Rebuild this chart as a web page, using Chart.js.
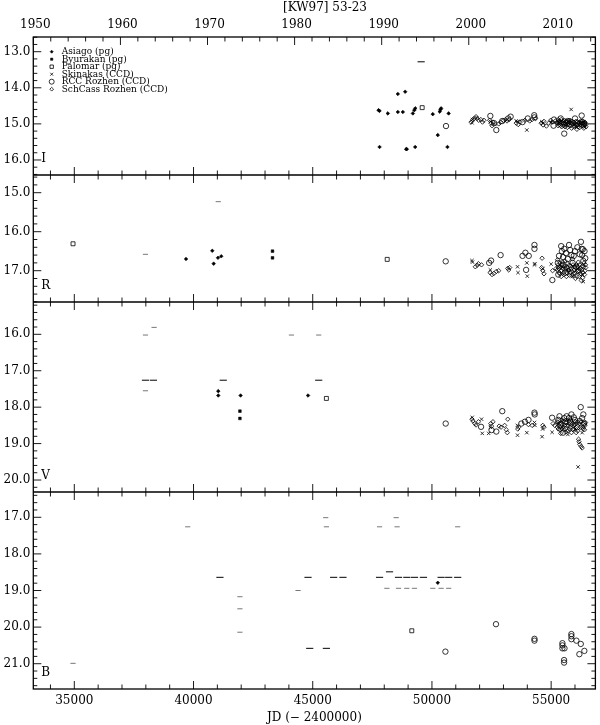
<!DOCTYPE html>
<html><head><meta charset="utf-8">
<script src="https://cdn.jsdelivr.net/npm/chart.js@4/dist/chart.umd.min.js"></script>
<style>html,body{margin:0;padding:0;background:#fff}canvas{display:block}</style>
</head><body>
<canvas id="c" width="600" height="725"></canvas>
<script>
// ---------- text / ticks ----------
const TITLE = '[KW97] 53-23';
const X_TITLE = 'JD (\u2212 2400000)';
const JD_MIN = 33280, JD_MAX = 56856;
const JD_TICKS = [35000, 40000, 45000, 50000, 55000];
const YEAR_TICKS = [1950, 1960, 1970, 1980, 1990, 2000, 2010];
const BANDS = ['I', 'R', 'V', 'B'];
const I_TICKS = [13, 14, 15, 16];
const R_TICKS = [15, 16, 17];
const V_TICKS = [16, 17, 18, 19, 20];
const B_TICKS = [17, 18, 19, 20, 21];
const I_RANGE = [12.593, 16.416];
const R_RANGE = [14.546, 17.803];
const V_RANGE = [15.113, 20.329];
const B_RANGE = [16.309, 21.691];
const SURVEYS = ['Asiago (pg)', 'Byurakan (pg)', 'Palomar (pg)', 'Skinakas (CCD)', 'RCC Rozhen (CCD)', 'SchCass Rozhen (CCD)'];

// ---------- I band ----------
const I_asiago = [[47761,14.62],[47800,14.64],[47803,15.64],[48150,14.71],[48570,14.67],[48570,14.17],[48780,14.67],[48878,14.11],[48920,15.70],[48945,15.70],[49200,14.71],[49260,14.62],[49300,14.57],[49297,15.64],[50035,14.73],[50245,15.31],[50327,14.66],[50360,14.60],[50385,14.57],[50650,15.64],[50700,14.71]];
const I_palomar = [[49590,14.55]];
const I_skinakas = [[51680,14.97],[51700,14.88],[52450,14.93],[52620,15.0],[53530,14.92],[53590,14.93],[53980,15.17],[54610,14.94],[54650,14.98],[55000,14.95],[55300,14.97],[55420,14.92],[55600,15.05],[55750,14.92],[55840,14.60],[55980,15.02],[56050,15.10],[56200,14.97],[56350,14.95],[56420,15.08]];
const I_rcc = [[50590,15.06],[52450,14.78],[52610,14.98],[52700,15.17],[52950,14.92],[53200,14.85],[53300,14.80],[53800,14.95],[54020,14.85],[54290,14.76],[54300,14.82],[55100,15.05],[55120,14.88],[55400,14.85],[55550,15.27],[55700,14.92],[56000,14.85],[56280,14.77],[56300,14.95],[56380,15.0]];
const I_schcass = [[51640,14.95],[51720,14.88],[51790,14.84],[51850,14.80],[51900,14.85],[51960,14.90],[52050,14.88],[52120,14.95],[52180,14.90],[52420,14.90],[52480,14.98],[52520,15.05],[52560,14.95],[52800,15.0],[52880,14.96],[53000,14.90],[53080,14.88],[53150,14.92],[53250,14.87],[53540,14.98],[53620,15.02],[53700,14.95],[53900,14.90],[54100,14.92],[54200,14.88],[54350,14.85],[54580,14.98],[54660,15.03],[54700,14.93],[54800,15.06],[54900,14.98],[54980,14.90],[55060,14.95],[55180,14.92],[55260,14.96],[55300,14.88],[55340,15.02],[55380,14.93],[55440,15.08],[55480,14.98],[55520,15.05],[55560,14.90],[55600,15.0],[55640,14.94],[55680,15.10],[55720,14.98],[55760,15.04],[55800,14.90],[55860,15.12],[55900,15.0],[55940,14.95],[55990,15.06],[56040,14.93],[56080,15.15],[56120,15.02],[56160,14.97],[56200,15.10],[56240,14.92],[56290,15.05],[56330,14.98],[56370,15.12],[56410,14.95],[56450,15.02],
  [55270,14.98],[55290,15.05],[55320,14.92],[55360,14.97],[55400,15.04],[55420,14.88],[55460,14.95],[55500,14.92],[55540,14.99],[55580,15.08],[55610,14.93],[55660,14.97],[55700,15.02],[55740,14.91],[55780,14.96],[55820,15.05],[55840,14.98],[55880,14.93],[55920,15.07],[55960,14.96],[56010,15.0],[56060,15.04],[56100,14.94],[56140,15.08],[56180,14.96],[56220,15.03],[56260,14.98],[56310,14.92],[56350,15.06],[56390,15.0],[56430,14.97],[56460,15.08]];
const I_dash = [[49548,13.28]];
const I_dashGray = [];

// ---------- R band ----------
const R_asiago = [[39686,16.70],[40787,16.49],[40845,16.82],[41025,16.67],[41163,16.63]];
const R_byurakan = [[43313,16.50],[43313,16.67]];
const R_palomar = [[34946,16.31],[48124,16.71]];
const R_skinakas = [[51680,16.74],[51700,16.78],[52450,16.98],[53590,16.90],[53610,17.05],[53980,16.80],[54000,17.14],[54300,16.85],[54320,16.82],[54650,16.95],[55000,16.83],[55450,16.90],[55700,17.0],[55900,17.15],[56100,16.95],[56300,17.10],[56350,17.28]];
const R_rcc = [[50577,16.76],[52400,16.80],[52480,16.74],[52880,16.60],[53800,16.62],[53920,16.54],[54060,16.62],[53950,16.98],[54300,16.34],[54300,16.44],[55050,17.24],[55280,16.80],[55420,16.37],[55450,16.50],[55500,16.65],[55550,16.44],[55600,17.05],[55750,16.34],[55800,16.47],[55850,16.60],[55900,16.80],[56000,16.50],[56100,16.40],[56150,17.0],[56250,16.26],[56280,16.44],[56300,16.60],[56350,16.75],[56400,16.50],[55300,17.10],
  [55330,16.62],[55480,16.85],[55620,16.55],[55700,16.70],[55950,16.62],[56050,16.90],[56200,16.58],[56330,16.45],[56430,16.68]];
const R_schcass = [[51820,16.90],[51900,16.86],[51950,16.82],[52080,16.85],[52440,17.05],[52520,17.10],[52600,17.07],[52700,17.02],[52800,17.0],[53180,16.94],[53220,16.98],[53260,16.92],[54620,16.68],[54600,16.92],[54650,17.0],[54700,17.08],[55060,17.0],[55200,16.95],[55270,16.72],[55300,16.90],[55340,17.05],[55380,16.80],[55420,17.15],[55460,16.85],[55500,16.95],[55540,17.10],[55580,16.75],[55620,16.92],[55660,17.05],[55700,16.82],[55740,16.98],[55780,17.12],[55820,16.88],[55860,17.0],[55900,16.70],[55940,17.08],[55980,16.90],[56020,17.20],[56060,16.85],[56100,17.02],[56140,16.78],[56180,17.15],[56220,16.95],[56260,17.25],[56300,16.88],[56340,17.05],[56380,16.80],[56420,17.0],[56450,16.92],
  [55260,16.98],[55290,16.85],[55320,16.95],[55360,17.08],[55400,16.90],[55440,17.0],[55480,16.78],[55520,17.05],[55560,16.88],[55600,16.95],[55640,17.15],[55680,16.92],[55720,17.0],[55760,16.86],[55800,17.05],[55840,16.95],[55880,17.12],[55920,16.85],[55960,16.98],[56000,17.06],[56040,16.92],[56080,17.15],[56120,16.90],[56160,17.0],[56200,16.85],[56240,17.08],[56280,16.98],[56320,17.18],[56360,16.90],[56400,17.10],[56440,16.85]];
const R_dash = [];
const R_dashGray = [[37985,16.58],[41038,15.23]];

// ---------- V band ----------
const V_asiago = [[41038,17.56],[41038,17.68],[41974,17.68],[44803,17.68]];
const V_byurakan = [[41946,18.11],[41946,18.31]];
const V_palomar = [[45573,17.76]];
const V_skinakas = [[51690,18.28],[52080,18.33],[52110,18.72],[52380,18.72],[52450,18.55],[53580,18.50],[53590,18.77],[53980,18.70],[54300,18.42],[54320,18.50],[54620,18.81],[54640,18.60],[55040,18.69],[55450,18.55],[55700,18.75],[56000,18.60],[56130,19.64],[56300,18.70]];
const V_rcc = [[50577,18.45],[52060,18.54],[52500,18.63],[52700,18.67],[52950,18.11],[53750,18.45],[53900,18.40],[54050,18.35],[54300,18.15],[54310,18.20],[55040,18.29],[55300,18.35],[55400,18.50],[55550,18.30],[55650,18.25],[55800,18.40],[55850,18.20],[56000,18.35],[56100,18.55],[56240,18.0],[56300,18.30],[56380,18.45],[55500,18.70],
  [55350,18.25],[55600,18.40],[55750,18.30],[55950,18.28],[56200,18.38],[56350,18.20]];
const V_schcass = [[51680,18.33],[51720,18.38],[51800,18.45],[51850,18.49],[51950,18.40],[52470,18.45],[52500,18.52],[52560,18.40],[52820,18.52],[52900,18.55],[53050,18.50],[53120,18.62],[53160,18.70],[53180,18.33],[53600,18.60],[53640,18.55],[54050,18.48],[54200,18.50],[54650,18.50],[54700,18.55],[55080,18.45],[55150,18.50],[55250,18.40],[55300,18.60],[55350,18.45],[55400,18.72],[55450,18.35],[55500,18.55],[55550,18.62],[55600,18.42],[55650,18.50],[55700,18.65],[55750,18.38],[55800,18.55],[55850,18.70],[55900,18.45],[55950,18.60],[56000,18.48],[56050,18.70],[56100,18.40],[56150,18.88],[56170,18.95],[56200,19.02],[56230,18.55],[56260,19.08],[56300,19.12],[56340,18.60],[56380,18.45],[56420,18.50],
  [55260,18.55],[55290,18.42],[55320,18.50],[55370,18.62],[55410,18.45],[55460,18.60],[55510,18.38],[55560,18.50],[55610,18.68],[55660,18.42],[55710,18.52],[55760,18.60],[55810,18.35],[55860,18.48],[55910,18.62],[55960,18.50],[56010,18.40],[56060,18.55],[56110,18.65],[56190,18.45],[56250,18.40],[56330,18.55],[56400,18.62],[56440,18.42]];
const V_dash = [[37985,17.26],[38318,17.26],[41247,17.26],[45251,17.26]];
const V_dashGray = [[37985,16.02],[38347,15.81],[37985,17.55],[44108,16.02],[45251,16.02]];

// ---------- B band ----------
const B_asiago = [[50245,18.79]];
const B_palomar = [[49155,20.10]];
const B_rcc = [[50565,20.67],[52686,19.92],[54301,20.32],[54301,20.37],[55473,20.44],[55473,20.50],[55473,20.58],[55543,20.90],[55543,20.97],[55560,20.58],[55849,20.19],[55849,20.25],[55849,20.33],[56059,20.37],[56243,20.46],[56184,20.74],[56393,20.65]];
const B_dash = [[41108,18.64],[44803,18.64],[45878,18.64],[46268,18.64],[47803,18.64],[48598,18.64],[48946,18.64],[49268,18.64],[49644,18.64],[50385,18.64],[50703,18.64],[51080,18.64],[48222,18.49],[44874,20.58],[45573,20.58]];
const B_dashGray = [[34946,20.99],[39757,17.26],[41946,19.17],[41946,19.50],[41946,20.14],[44385,19.0],[45544,17.01],[45573,17.26],[47803,17.26],[48500,17.01],[48540,17.26],[51080,17.26],[48110,18.94],[48598,18.94],[48946,18.94],[49268,18.94],[50035,18.94],[50385,18.94],[50703,18.94]];

// ---------- styles ----------
const CLEAR = 'rgba(0,0,0,0)';
const MARK = {
  asiago:   {pointStyle:'rectRot', pointRadius:1.8, backgroundColor:'#000', borderColor:'#000', borderWidth:0.6},
  byurakan: {pointStyle:'rect', pointRadius:1.9, backgroundColor:'#000', borderColor:'#000', borderWidth:0.5},
  palomar:  {pointStyle:'rect', pointRadius:2.8, backgroundColor:CLEAR, borderColor:'#000', borderWidth:0.8},
  skinakas: {pointStyle:'crossRot', pointRadius:2.4, backgroundColor:CLEAR, borderColor:'#000', borderWidth:0.8},
  rcc:      {pointStyle:'circle', pointRadius:2.7, backgroundColor:CLEAR, borderColor:'#000', borderWidth:0.8},
  schcass:  {pointStyle:'rectRot', pointRadius:2.2, backgroundColor:CLEAR, borderColor:'#000', borderWidth:0.8},
  dash:     {pointStyle:'line', pointRadius:3.6, backgroundColor:CLEAR, borderColor:'#000', borderWidth:1},
  dashGray: {pointStyle:'line', pointRadius:2.6, backgroundColor:CLEAR, borderColor:'#777', borderWidth:1}
};
const LEGEND_KEYS = ['asiago','byurakan','palomar','skinakas','rcc','schcass'];

const PANEL_DATA = {
  yI: {asiago:I_asiago, palomar:I_palomar, skinakas:I_skinakas, rcc:I_rcc, schcass:I_schcass, dash:I_dash, dashGray:I_dashGray},
  yR: {asiago:R_asiago, byurakan:R_byurakan, palomar:R_palomar, skinakas:R_skinakas, rcc:R_rcc, schcass:R_schcass, dash:R_dash, dashGray:R_dashGray},
  yV: {asiago:V_asiago, byurakan:V_byurakan, palomar:V_palomar, skinakas:V_skinakas, rcc:V_rcc, schcass:V_schcass, dash:V_dash, dashGray:V_dashGray},
  yB: {asiago:B_asiago, palomar:B_palomar, rcc:B_rcc, dash:B_dash, dashGray:B_dashGray}
};

const datasets = [];
Object.keys(PANEL_DATA).forEach(axis => {
  const sets = PANEL_DATA[axis];
  Object.keys(sets).forEach(kind => {
    const m = MARK[kind];
    datasets.push(Object.assign({
      label: axis + ' ' + kind,
      yAxisID: axis, xAxisID: 'x',
      data: sets[kind].map(p => ({x: p[0], y: p[1]})),
      showLine: false,
      pointHoverRadius: m.pointRadius
    }, m));
  });
});

const yearOf = jd => 2000 + (jd - 51544.5) / 365.25;
const FONT = '"DejaVu Serif", "Liberation Serif", serif';
Chart.defaults.font.family = FONT;
Chart.defaults.font.size = 12;
Chart.defaults.color = '#000';

function yScale(range, ticks, weight, stackWeight) {
  return {
    type: 'linear', position: 'left', stack: 'lc', stackWeight: stackWeight, weight: weight,
    reverse: true, min: range[0], max: range[1],
    grid: {display:false, drawTicks:false}, border: {display:false},
    ticks: {padding: 3, autoSkip:false, callback: v => Number(v).toFixed(1)},
    afterBuildTicks: s => { s.ticks = ticks.map(v => ({value: v})); },
    afterFit: s => { s.width = 33.3; }
  };
}

const framePlugin = {
  id: 'frame',
  afterDatasetsDraw(chart) {
    const ctx = chart.ctx, ca = chart.chartArea;
    const xs = chart.scales.x, xt = chart.scales.xTop;
    const panels = ['yI','yR','yV','yB'].map(id => chart.scales[id]);
    ctx.save();
    ctx.strokeStyle = '#000';
    ctx.lineWidth = 1.3;
    ctx.strokeRect(ca.left, ca.top, ca.right - ca.left, ca.bottom - ca.top);
    panels.forEach((s, i) => {
      if (i < panels.length - 1) {
        ctx.beginPath(); ctx.moveTo(ca.left, s.bottom); ctx.lineTo(ca.right, s.bottom); ctx.stroke();
      }
    });
    ctx.lineWidth = 0.9;
    ctx.beginPath();
    panels.forEach((s, i) => {
      for (let jd = 34000; jd <= 56000; jd += 1000) {
        const px = xs.getPixelForValue(jd);
        const L = jd % 5000 === 0 ? 8 : 4.5;
        if (i > 0) { ctx.moveTo(px, s.top); ctx.lineTo(px, s.top + L); }
        ctx.moveTo(px, s.bottom); ctx.lineTo(px, s.bottom - L);
      }
      const k0 = Math.ceil(s.min * 5 - 1e-6), k1 = Math.floor(s.max * 5 + 1e-6);
      for (let k = k0; k <= k1; k++) {
        const py = s.getPixelForValue(k / 5);
        const L = k % 5 === 0 ? 8 : 4;
        ctx.moveTo(ca.left, py); ctx.lineTo(ca.left + L, py);
        ctx.moveTo(ca.right, py); ctx.lineTo(ca.right - L, py);
      }
    });
    for (let y = 1950; y <= 2014; y += 2) {
      const px = xt.getPixelForValue(y);
      const L = y % 10 === 0 ? 8 : 4.5;
      ctx.moveTo(px, ca.top); ctx.lineTo(px, ca.top + L);
    }
    ctx.stroke();

    ctx.fillStyle = '#000';
    ctx.font = '12px ' + FONT;
    ctx.textAlign = 'left'; ctx.textBaseline = 'middle';
    panels.forEach((s, i) => ctx.fillText(BANDS[i], ca.left + 8, s.bottom - 16));

    ctx.font = '9px ' + FONT;
    LEGEND_KEYS.forEach((k, i) => {
      const m = MARK[k];
      const ly = ca.top + 14.7 + i * 7.5;
      const lx = ca.left + 18.4;
      ctx.save();
      ctx.strokeStyle = m.borderColor; ctx.fillStyle = m.backgroundColor; ctx.lineWidth = m.borderWidth;
      const r = k === 'rcc' ? 2.5 : (k === 'palomar' ? 2.4 : m.pointRadius * 0.85);
      Chart.helpers.drawPoint(ctx, {pointStyle: m.pointStyle, radius: r, rotation: 0, borderWidth: m.borderWidth}, lx, ly);
      ctx.restore();
      ctx.fillStyle = '#000';
      ctx.fillText(SURVEYS[i], ca.left + 28.4, ly);
    });

    ctx.font = '12px ' + FONT;
    ctx.textAlign = 'center';
    ctx.fillText(TITLE, 325, 8);
    ctx.restore();
  }
};

new Chart(document.getElementById('c'), {
  type: 'scatter',
  data: {datasets},
  plugins: [framePlugin],
  options: {
    responsive: false, animation: false, devicePixelRatio: 1,
    layout: {padding: {left: 0, right: 4.3, top: 0, bottom: 0}},
    plugins: {legend: {display: false}, tooltip: {enabled: false}, title: {display: false}},
    scales: {
      x: {
        type: 'linear', position: 'bottom', min: JD_MIN, max: JD_MAX,
        grid: {display:false, drawTicks:false}, border: {display:false},
        ticks: {padding: 4.5, autoSkip:false, maxRotation:0, callback: v => String(v)},
        afterBuildTicks: s => { s.ticks = JD_TICKS.map(v => ({value: v})); },
        title: {display: true, text: X_TITLE, padding: {top: 0, bottom: 0}, font: {size: 12}},
        afterFit: s => { s.height = 36; }
      },
      xTop: {
        type: 'linear', position: 'top', min: yearOf(JD_MIN), max: yearOf(JD_MAX),
        grid: {display:false, drawTicks:false}, border: {display:false},
        ticks: {padding: 5, autoSkip:false, maxRotation:0, labelOffset: 2, callback: v => String(v)},
        afterBuildTicks: s => { s.ticks = YEAR_TICKS.map(v => ({value: v})); },
        afterFit: s => { s.height = 37; }
      },
      yI: yScale(I_RANGE, I_TICKS, 4, 138),
      yR: yScale(R_RANGE, R_TICKS, 3, 127),
      yV: yScale(V_RANGE, V_TICKS, 2, 190),
      yB: yScale(B_RANGE, B_TICKS, 1, 197)
    }
  }
});
</script></body></html>
